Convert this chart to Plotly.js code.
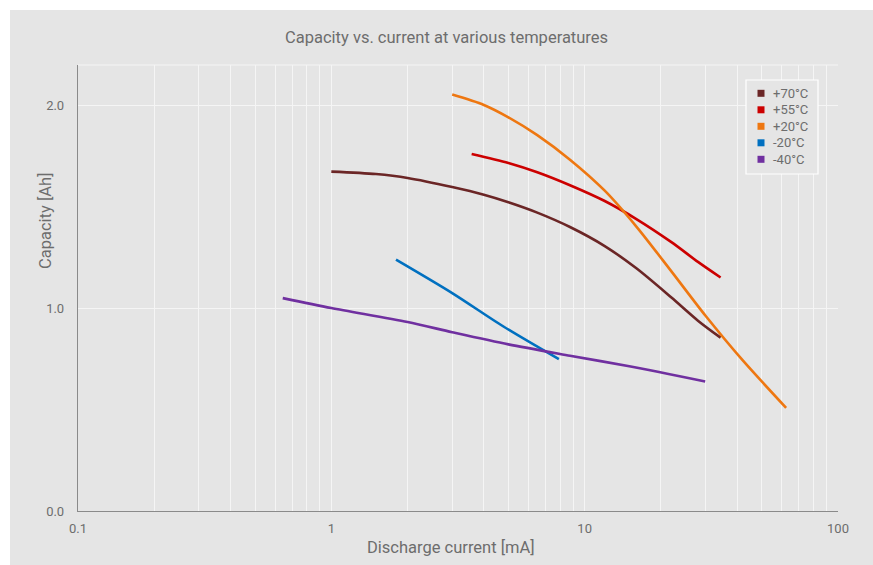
<!DOCTYPE html>
<html>
<head>
<meta charset="utf-8">
<script src="https://cdn.plot.ly/plotly-3.0.1.min.js"></script>
<style>
  html, body { margin: 0; padding: 0; background: #ffffff; width: 873px; height: 565px; overflow: hidden; }
  #chart { position: absolute; left: 10px; top: 10px; width: 863px; height: 555px; }
</style>
</head>
<body>
<div id="chart"></div>
<script>
// Data
const seriesNames = ["+70°C", "+55°C", "+20°C", "-20°C", "-40°C"];
const seriesColors = ["#6b2626", "#cc0000", "#ee7711", "#0070c0", "#7030a0"];

const current70 = [1.0, 1.5, 2.0, 3.0, 4.0, 5.0, 6.5, 8.75, 12, 16, 22, 28, 34.4];
const capacity70 = [1.674, 1.662, 1.643, 1.598, 1.560, 1.523, 1.472, 1.401, 1.307, 1.197, 1.053, 0.939, 0.855];

const current55 = [3.58, 5.0, 6.5, 8.75, 12, 16, 22, 28, 34.4];
const capacity55 = [1.761, 1.717, 1.671, 1.607, 1.529, 1.440, 1.326, 1.229, 1.152];

const current20 = [3.0, 4.0, 5.0, 6.5, 8.75, 12, 16, 22, 30, 42, 62.4];
const capacity20 = [2.054, 2.003, 1.942, 1.854, 1.733, 1.580, 1.403, 1.182, 0.963, 0.744, 0.509];

const currentM20 = [1.80, 3.0, 4.78, 7.91];
const capacityM20 = [1.240, 1.075, 0.910, 0.749];

const currentM40 = [0.643, 1.0, 2.0, 3.0, 5.0, 8.75, 15, 29.9];
const capacityM40 = [1.050, 1.001, 0.932, 0.882, 0.822, 0.766, 0.714, 0.639];

const xTickVals = [0.1,0.2,0.3,0.4,0.5,0.6,0.7,0.8,0.9,1,2,3,4,5,6,7,8,9,10,20,30,40,50,60,70,80,90,100];
const xTickText = xTickVals.map(v => ([0.1,1,10,100].includes(v) ? String(v) : ""));
const yTickVals = [0, 1, 2];
const yTickText = ["0.0", "1.0", "2.0"];

const titleText = "Capacity vs. current at various temperatures";
const xTitle = "Discharge current [mA]";
const yTitle = "Capacity [Ah]";

const xs = [current70, current55, current20, currentM20, currentM40];
const ys = [capacity70, capacity55, capacity20, capacityM20, capacityM40];

const font = "Roboto, 'Noto Sans', 'DejaVu Sans', sans-serif";
const textColor = "#6d6d6d";

const traces = [];
for (let i = 0; i < xs.length; i++) {
  traces.push({
    x: xs[i], y: ys[i], type: "scatter", mode: "lines",
    name: seriesNames[i],
    line: { color: seriesColors[i], width: 2.6, shape: "spline", smoothing: 0.8 },
    showlegend: false, hoverinfo: "skip"
  });
}

// Legend (drawn as boxed list, positioned in plot-area fractions)
const plotL = 78, plotR = 838, plotT = 65, plotB = 511;
const fx = px => (px - plotL) / (plotR - plotL);
const fy = py => (plotB - py) / (plotB - plotT);
const legendShapes = [
  { type: "rect", xref: "paper", yref: "paper", x0: fx(746), x1: fx(818), y0: fy(174), y1: fy(80),
    line: { color: "#ffffff", width: 1.2 }, fillcolor: "#e5e5e5", layer: "above" }
];
const legendAnn = [];
for (let i = 0; i < seriesNames.length; i++) {
  const cy = 93.3 + i * 16.5;
  legendShapes.push({ type: "rect", xref: "paper", yref: "paper",
    x0: fx(757.5), x1: fx(764.5), y0: fy(cy + 3.5), y1: fy(cy - 3.5),
    line: { width: 0 }, fillcolor: seriesColors[i], layer: "above" });
  legendAnn.push({ text: seriesNames[i], xref: "paper", yref: "paper", x: fx(770.5), y: fy(cy),
    xanchor: "left", yanchor: "middle", showarrow: false,
    font: { family: font, size: 13, color: textColor } });
}

const layout = {
  width: 863, height: 555,
  paper_bgcolor: "#e5e5e5",
  plot_bgcolor: "#e5e5e5",
  margin: { l: 68, r: 35, t: 55, b: 54, pad: 0 },
  font: { family: font, color: textColor, size: 13 },
  showlegend: false,
  xaxis: {
    type: "log", range: [-1, 2],
    tickvals: xTickVals, ticktext: xTickText,
    showgrid: true, gridcolor: "#f5f5f5", gridwidth: 1,
    showline: true, linecolor: "#8a8a8a", linewidth: 1.2,
    ticks: "", zeroline: false, ticklabelstandoff: 5,
    tickfont: { family: font, size: 13, color: textColor }
  },
  yaxis: {
    range: [0, 2.2],
    tickvals: yTickVals, ticktext: yTickText,
    showgrid: true, gridcolor: "#f5f5f5", gridwidth: 1,
    showline: true, linecolor: "#8a8a8a", linewidth: 1.2,
    ticks: "", zeroline: false, ticklabelstandoff: 10,
    tickfont: { family: font, size: 13, color: textColor }
  },
  shapes: [
    { type: "line", xref: "paper", yref: "paper", x0: 0, x1: 1, y0: 1, y1: 1,
      line: { color: "#f5f5f5", width: 1 }, layer: "below" }
  ].concat(legendShapes),
  annotations: [
    { text: titleText, xref: "paper", yref: "paper", x: fx(446), y: fy(37), yanchor: "middle", xanchor: "center",
      showarrow: false, font: { family: font, size: 16.5, color: textColor } },
    { text: xTitle, xref: "paper", yref: "paper", x: fx(451), y: fy(547), yanchor: "middle", xanchor: "center",
      showarrow: false, font: { family: font, size: 16.5, color: textColor } },
    { text: yTitle, xref: "paper", yref: "paper", x: fx(45), y: fy(221), yanchor: "middle", xanchor: "center",
      textangle: -90, showarrow: false, font: { family: font, size: 16.5, color: textColor } }
  ].concat(legendAnn)
};

Plotly.newPlot("chart", traces, layout, { displayModeBar: false, staticPlot: true });
</script>
</body>
</html>
